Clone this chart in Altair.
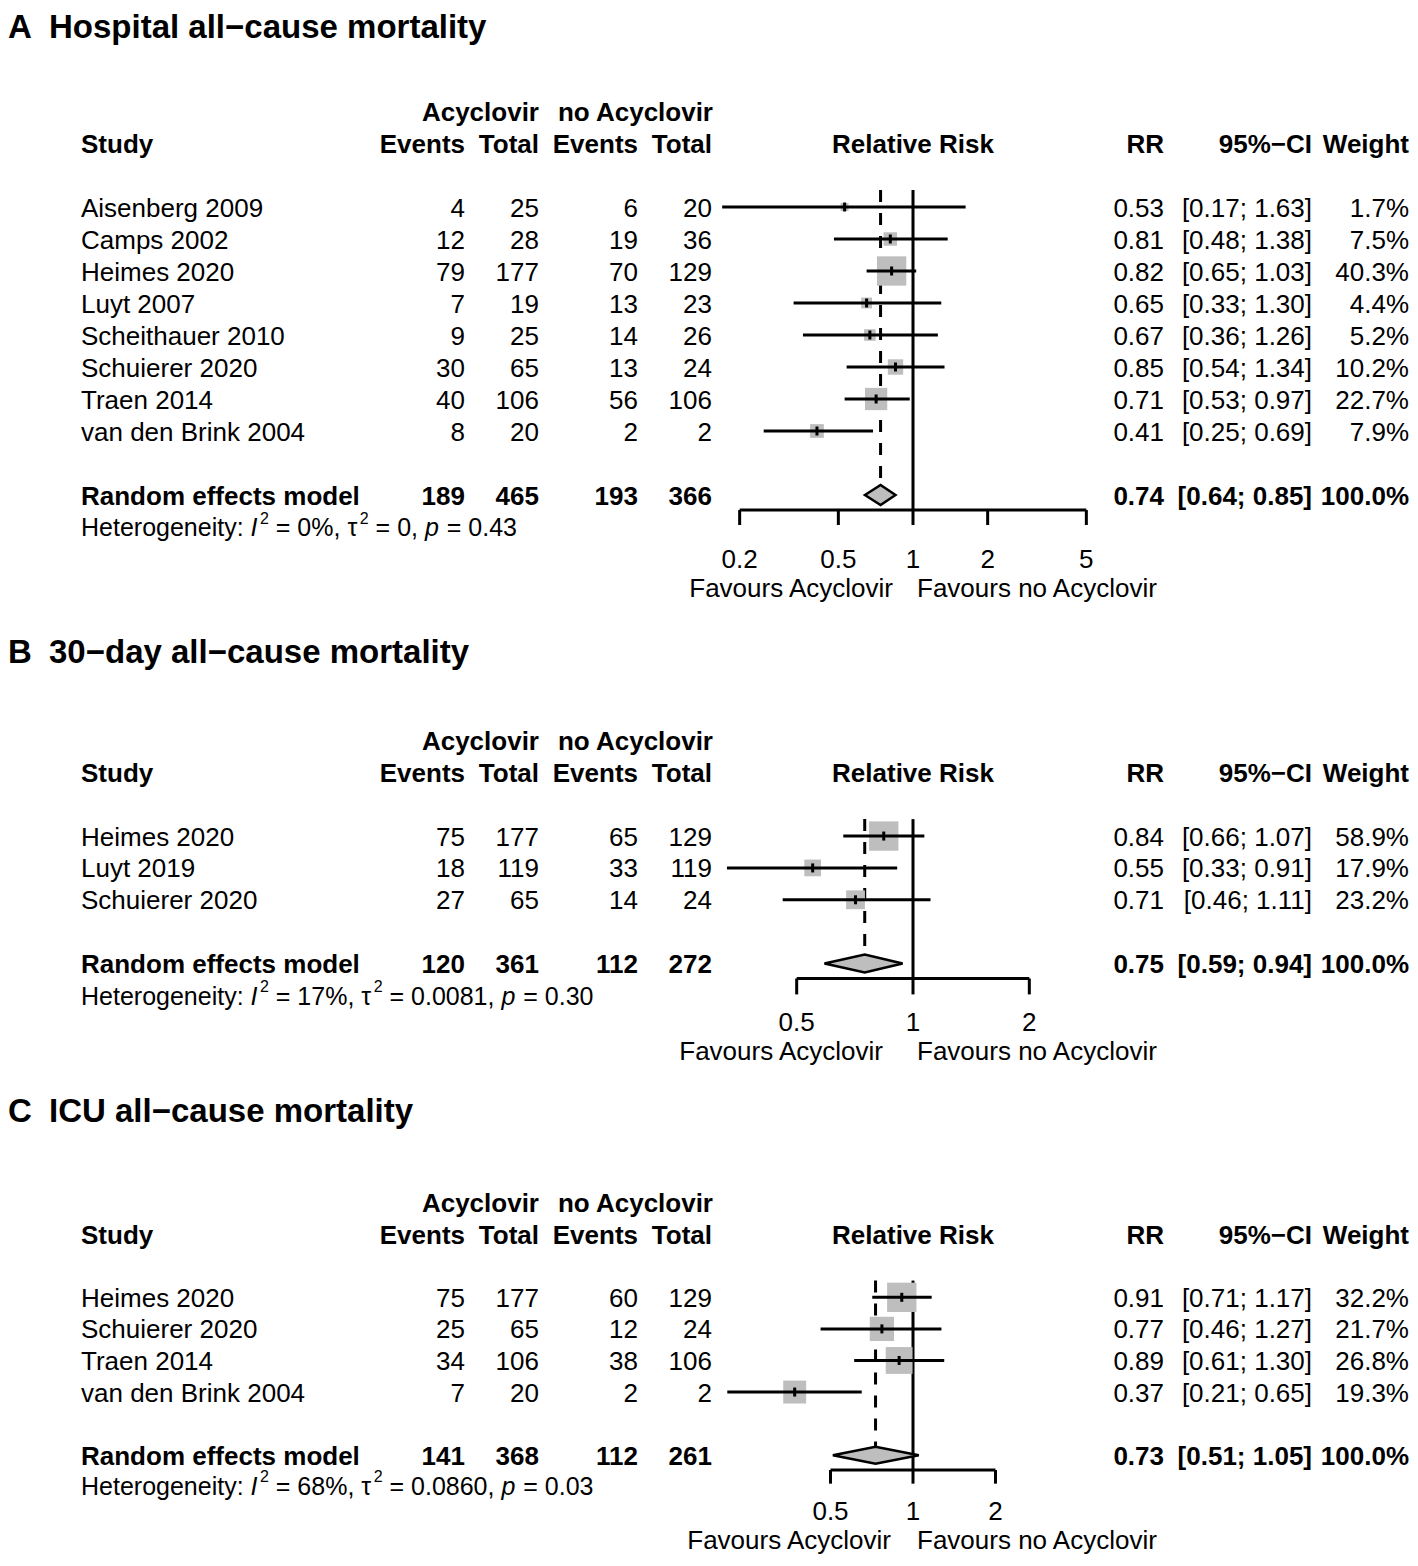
import math
import altair as alt
import pandas as pd

# ======================= DATA =======================
# Panel A - Hospital all-cause mortality
A_title = "Hospital all−cause mortality"
A_study = ["Aisenberg 2009", "Camps 2002", "Heimes 2020", "Luyt 2007",
           "Scheithauer 2010", "Schuierer 2020", "Traen 2014", "van den Brink 2004"]
A_ev_acy = [4, 12, 79, 7, 9, 30, 40, 8]
A_n_acy = [25, 28, 177, 19, 25, 65, 106, 20]
A_ev_no = [6, 19, 70, 13, 14, 13, 56, 2]
A_n_no = [20, 36, 129, 23, 26, 24, 106, 2]
A_rr = [0.53, 0.81, 0.82, 0.65, 0.67, 0.85, 0.71, 0.41]
A_lo = [0.17, 0.48, 0.65, 0.33, 0.36, 0.54, 0.53, 0.25]
A_hi = [1.63, 1.38, 1.03, 1.30, 1.26, 1.34, 0.97, 0.69]
A_w = [1.7, 7.5, 40.3, 4.4, 5.2, 10.2, 22.7, 7.9]
A_sum_counts = [189, 465, 193, 366]
A_sum_est = [0.74, 0.64, 0.85]
A_het = ["0%", "0", "0.43"]
A_ticks = [0.2, 0.5, 1, 2, 5]

# Panel B - 30-day all-cause mortality
B_title = "30−day all−cause mortality"
B_study = ["Heimes 2020", "Luyt 2019", "Schuierer 2020"]
B_ev_acy = [75, 18, 27]
B_n_acy = [177, 119, 65]
B_ev_no = [65, 33, 14]
B_n_no = [129, 119, 24]
B_rr = [0.84, 0.55, 0.71]
B_lo = [0.66, 0.33, 0.46]
B_hi = [1.07, 0.91, 1.11]
B_w = [58.9, 17.9, 23.2]
B_sum_counts = [120, 361, 112, 272]
B_sum_est = [0.75, 0.59, 0.94]
B_het = ["17%", "0.0081", "0.30"]
B_ticks = [0.5, 1, 2]

# Panel C - ICU all-cause mortality
C_title = "ICU all−cause mortality"
C_study = ["Heimes 2020", "Schuierer 2020", "Traen 2014", "van den Brink 2004"]
C_ev_acy = [75, 25, 34, 7]
C_n_acy = [177, 65, 106, 20]
C_ev_no = [60, 12, 38, 2]
C_n_no = [129, 24, 106, 2]
C_rr = [0.91, 0.77, 0.89, 0.37]
C_lo = [0.71, 0.46, 0.61, 0.21]
C_hi = [1.17, 1.27, 1.30, 0.65]
C_w = [32.2, 21.7, 26.8, 19.3]
C_sum_counts = [141, 368, 112, 261]
C_sum_est = [0.73, 0.51, 1.05]
C_het = ["68%", "0.0860", "0.03"]
C_ticks = [0.5, 1, 2]

HEADERS_TOP = ["Acyclovir", "no Acyclovir"]
HEADERS = ["Study", "Events", "Total", "Events", "Total", "Relative Risk", "RR", "95%−CI", "Weight"]
SUMMARY_LABEL = "Random effects model"
FAV_LEFT = "Favours Acyclovir"
FAV_RIGHT = "Favours no Acyclovir"

PANELS = [
    dict(letter="A", title=A_title, study=A_study, ev_acy=A_ev_acy, n_acy=A_n_acy, ev_no=A_ev_no,
         n_no=A_n_no, rr=A_rr, lo=A_lo, hi=A_hi, w=A_w, sc=A_sum_counts, se=A_sum_est,
         het=A_het, ticks=A_ticks),
    dict(letter="B", title=B_title, study=B_study, ev_acy=B_ev_acy, n_acy=B_n_acy, ev_no=B_ev_no,
         n_no=B_n_no, rr=B_rr, lo=B_lo, hi=B_hi, w=B_w, sc=B_sum_counts, se=B_sum_est,
         het=B_het, ticks=B_ticks),
    dict(letter="C", title=C_title, study=C_study, ev_acy=C_ev_acy, n_acy=C_n_acy, ev_no=C_ev_no,
         n_no=C_n_no, rr=C_rr, lo=C_lo, hi=C_hi, w=C_w, sc=C_sum_counts, se=C_sum_est,
         het=C_het, ticks=C_ticks),
]

# ======================= LAYOUT (page pixels) =======================
FONT = "Liberation Sans"
FS = 26      # body font
FS_T = 33    # panel titles
FS_H = 25    # heterogeneity line
FS_SUP = 16  # superscripts
LW = 3
GRAY = "#bebebe"
ROW = 32
COLS = dict(letter=8, title=49, study=81, ev_acy=465, n_acy=539, ev_no=638, n_no=712,
            forest=913, rr=1164, ci=1312, w=1409)
LAYOUT = {
    "A": dict(title_y=26, hdr=111, top=190, axis=510, tick_end=525, tick_lab=558, fav=587,
              ppd=248.0, fav_gap=20, dia_h=10),
    "B": dict(title_y=651, hdr=741, top=820, axis=980, tick_end=996, tick_lab=1023, fav=1052,
              ppd=386.4, fav_gap=30, dia_h=9),
    "C": dict(title_y=1112, hdr=1206, top=1285, axis=1477, tick_end=1492, tick_lab=1521, fav=1550,
              ppd=274.0, fav_gap=22, dia_h=8.5),
}
W, H = 1402, 1546
PAGE0 = 8
XT = alt.Scale(domain=[PAGE0, PAGE0 + W], range=[0, W])
YS = alt.Scale(domain=[PAGE0, PAGE0 + H], range=[0, H])
# gentle vertical squeeze in the lower part so that everything fits the page
Y_KNOTS = [(0, 0.0), (600, 0.0), (1100, -2.0), (1477, -7.0), (1521, -11.0), (1600, -11.0)]


def cx(page_x):
    return page_x - PAGE0


def ym(y):
    for (a, sa), (b, sb) in zip(Y_KNOTS[:-1], Y_KNOTS[1:]):
        if a <= y <= b:
            return y + sa + (sb - sa) * (y - a) / (b - a)
    return y + Y_KNOTS[-1][1]


# approximate advance widths (em) of Liberation Sans, to chain styled pieces
AW = {' ': 0.278, ':': 0.278, ',': 0.278, '.': 0.278, '=': 0.584, '%': 0.889,
      'τ': 0.434, 'H': 0.722, 'I': 0.278, 'e': 0.556, 't': 0.278, 'r': 0.333, 'o': 0.556,
      'g': 0.556, 'n': 0.556, 'i': 0.222, 'y': 0.5, 'p': 0.556}
for _d in "0123456789":
    AW[_d] = 0.556


def tw(s, size):
    return sum(AW.get(c, 0.556) for c in s) * size


def Xq(field, sc):
    return alt.X(field, type="quantitative", scale=sc, axis=None)


def Yq(field):
    return alt.Y(field, type="quantitative", scale=YS, axis=None)


cells = []


def add(k, x, y, t):
    cells.append(dict(k=k, x=x, y=ym(y), t=str(t)))


layers = []

for P in PANELS:
    L = LAYOUT[P["letter"]]
    hdr = L["hdr"]
    n = len(P["study"])
    rows_y = [hdr + ROW * (3 + i) for i in range(n)]
    sum_y = hdr + ROW * (n + 4)
    het_y = sum_y + ROW

    # ---- titles
    add("title", COLS["letter"], L["title_y"], P["letter"])
    add("title", COLS["title"], L["title_y"], P["title"])
    # ---- headers
    add("br", COLS["n_acy"], hdr, HEADERS_TOP[0])
    add("br", COLS["n_no"] + 1, hdr, HEADERS_TOP[1])
    h2 = hdr + ROW
    add("bl", COLS["study"], h2, HEADERS[0])
    for key, lab in zip(["ev_acy", "n_acy", "ev_no", "n_no"], HEADERS[1:5]):
        add("br", COLS[key], h2, lab)
    add("bc", COLS["forest"], h2, HEADERS[5])
    add("br", COLS["rr"], h2, HEADERS[6])
    add("br", COLS["ci"], h2, HEADERS[7])
    add("br", COLS["w"], h2, HEADERS[8])
    # ---- study rows
    for i in range(n):
        y = rows_y[i]
        add("rl", COLS["study"], y, P["study"][i])
        for key in ["ev_acy", "n_acy", "ev_no", "n_no"]:
            add("rr", COLS[key], y, P[key][i])
        add("rr", COLS["rr"], y, f"{P['rr'][i]:.2f}")
        add("rr", COLS["ci"], y, f"[{P['lo'][i]:.2f}; {P['hi'][i]:.2f}]")
        add("rr", COLS["w"], y, f"{P['w'][i]:.1f}%")
    # ---- summary row
    add("bl", COLS["study"], sum_y, SUMMARY_LABEL)
    for key, v in zip(["ev_acy", "n_acy", "ev_no", "n_no"], P["sc"]):
        add("br", COLS[key], sum_y, v)
    est, slo, shi = P["se"]
    add("br", COLS["rr"], sum_y, f"{est:.2f}")
    add("br", COLS["ci"], sum_y, f"[{slo:.2f}; {shi:.2f}]")
    add("br", COLS["w"], sum_y, f"{100.0:.1f}%")
    # ---- heterogeneity line (pieces chained by width)
    i2, tau2, pv = P["het"]
    pieces = [("Heterogeneity: ", "hl", FS_H), ("I", "hi", FS_H), ("2", "sup", FS_SUP),
              (f" = {i2}, τ", "hl", FS_H), ("2", "sup", FS_SUP), (f" = {tau2}, ", "hl", FS_H),
              ("p", "hi", FS_H), (f" = {pv}", "hl", FS_H)]
    xx = COLS["study"]
    for s, k, fs in pieces:
        lead = len(s) - len(s.lstrip(" "))
        xx += tw(" " * lead, fs)
        if k == "sup":
            xx += 1.5
        add(k, xx, het_y, s.strip(" "))
        xx += tw(s[lead:], fs)
        if k == "hi":
            xx += 1.0

    # ---- forest part
    ticks = P["ticks"]
    c = COLS["forest"]
    r0 = cx(c + L["ppd"] * math.log10(ticks[0]))
    r1 = cx(c + L["ppd"] * math.log10(ticks[-1]))
    sc = alt.Scale(type="log", domain=[ticks[0], ticks[-1]], range=[r0, r1], nice=False)

    wmax = max(P["w"])
    sdf = pd.DataFrame(dict(y=[ym(v) for v in rows_y], rr=P["rr"], lo=P["lo"], hi=P["hi"],
                            wrel=[w / wmax for w in P["w"]]))
    sdf["ty1"] = sdf["y"] - 4.5
    sdf["ty2"] = sdf["y"] + 4.5

    sy = ym(sum_y)
    vdf = pd.DataFrame(dict(x=[1.0], y1=[ym(L["top"])], y2=[ym(L["axis"])]))
    ddf = pd.DataFrame(dict(x=[est], y1=[ym(L["top"])], y2=[sy - L["dia_h"]]))
    dia = pd.DataFrame(dict(x=[slo, est, shi],
                            ya=[sy, sy - L["dia_h"], sy],
                            yb=[sy, sy + L["dia_h"], sy]))
    adf = pd.DataFrame(dict(x1=[ticks[0]], x2=[ticks[-1]], y=[ym(L["axis"])]))
    tdf = pd.DataFrame(dict(t=ticks, y1=[ym(L["axis"])] * len(ticks),
                            y2=[ym(L["tick_end"])] * len(ticks),
                            ly=[ym(L["tick_lab"])] * len(ticks), lab=[f"{t:g}" for t in ticks]))
    fdf = pd.DataFrame(dict(x=[1.0], y=[ym(L["fav"])]))

    layers += [
        alt.Chart(vdf).mark_rule(color="black", strokeWidth=LW).encode(
            x=Xq("x", sc), y=Yq("y1"), y2="y2:Q"),
        alt.Chart(ddf).mark_rule(color="black", strokeWidth=LW, strokeDash=[12, 11]).encode(
            x=Xq("x", sc), y=Yq("y1"), y2="y2:Q"),
        alt.Chart(sdf).mark_square(color=GRAY, opacity=1, filled=True).encode(
            x=Xq("rr", sc), y=Yq("y"),
            size=alt.Size("wrel:Q", scale=alt.Scale(domain=[0, 1], range=[26, 860]), legend=None)),
        alt.Chart(sdf).mark_rule(color="black", strokeWidth=LW).encode(
            x=Xq("lo", sc), x2="hi:Q", y=Yq("y")),
        alt.Chart(sdf).mark_rule(color="black", strokeWidth=LW).encode(
            x=Xq("rr", sc), y=Yq("ty1"), y2="ty2:Q"),
        alt.Chart(dia).mark_area(fill=GRAY, stroke="black", strokeWidth=2.5, orient="vertical",
                                 interpolate="linear", opacity=1).encode(
            x=Xq("x", sc), y=Yq("ya"), y2="yb:Q"),
        alt.Chart(adf).mark_rule(color="black", strokeWidth=LW).encode(
            x=Xq("x1", sc), x2="x2:Q", y=Yq("y")),
        alt.Chart(tdf).mark_rule(color="black", strokeWidth=LW).encode(
            x=Xq("t", sc), y=Yq("y1"), y2="y2:Q"),
        alt.Chart(tdf).mark_text(font=FONT, fontSize=FS, align="center", baseline="middle",
                                 color="black", dy=1.5).encode(
            x=Xq("t", sc), y=Yq("ly"), text="lab:N"),
        alt.Chart(fdf).mark_text(font=FONT, fontSize=FS, align="right", baseline="middle",
                                 color="black", dx=-L["fav_gap"], dy=1.5, text=FAV_LEFT).encode(
            x=Xq("x", sc), y=Yq("y")),
        alt.Chart(fdf).mark_text(font=FONT, fontSize=FS, align="left", baseline="middle",
                                 color="black", dx=4, dy=1.5, text=FAV_RIGHT).encode(
            x=Xq("x", sc), y=Yq("y")),
    ]

cdf = pd.DataFrame(cells)
STYLES = {
    "title": dict(align="left", fontWeight="bold", fontSize=FS_T, dy=1.9),
    "bl": dict(align="left", fontWeight="bold", fontSize=FS, dy=1.5),
    "br": dict(align="right", fontWeight="bold", fontSize=FS, dy=1.5),
    "bc": dict(align="center", fontWeight="bold", fontSize=FS, dy=1.5),
    "rl": dict(align="left", fontWeight="normal", fontSize=FS, dy=1.5),
    "rr": dict(align="right", fontWeight="normal", fontSize=FS, dy=1.5),
    "hl": dict(align="left", fontWeight="normal", fontSize=FS_H, dy=1.45),
    "hi": dict(align="left", fontWeight="normal", fontSize=FS_H, fontStyle="italic", dy=1.45),
    "sup": dict(align="left", fontWeight="normal", fontSize=FS_SUP, dy=-8.1),
}
for k, st in STYLES.items():
    sub = cdf[cdf["k"] == k]
    layers.append(
        alt.Chart(sub).mark_text(font=FONT, baseline="middle", color="black", **st).encode(
            x=Xq("x", XT), y=Yq("y"), text="t:N"))

chart = alt.layer(*layers).resolve_scale(x="independent").properties(
    width=W, height=H, padding=0, autosize=alt.AutoSizeParams(type="none")
).configure_view(strokeWidth=0)

chart.save("out.html", embed_options={"renderer": "svg", "actions": False})
